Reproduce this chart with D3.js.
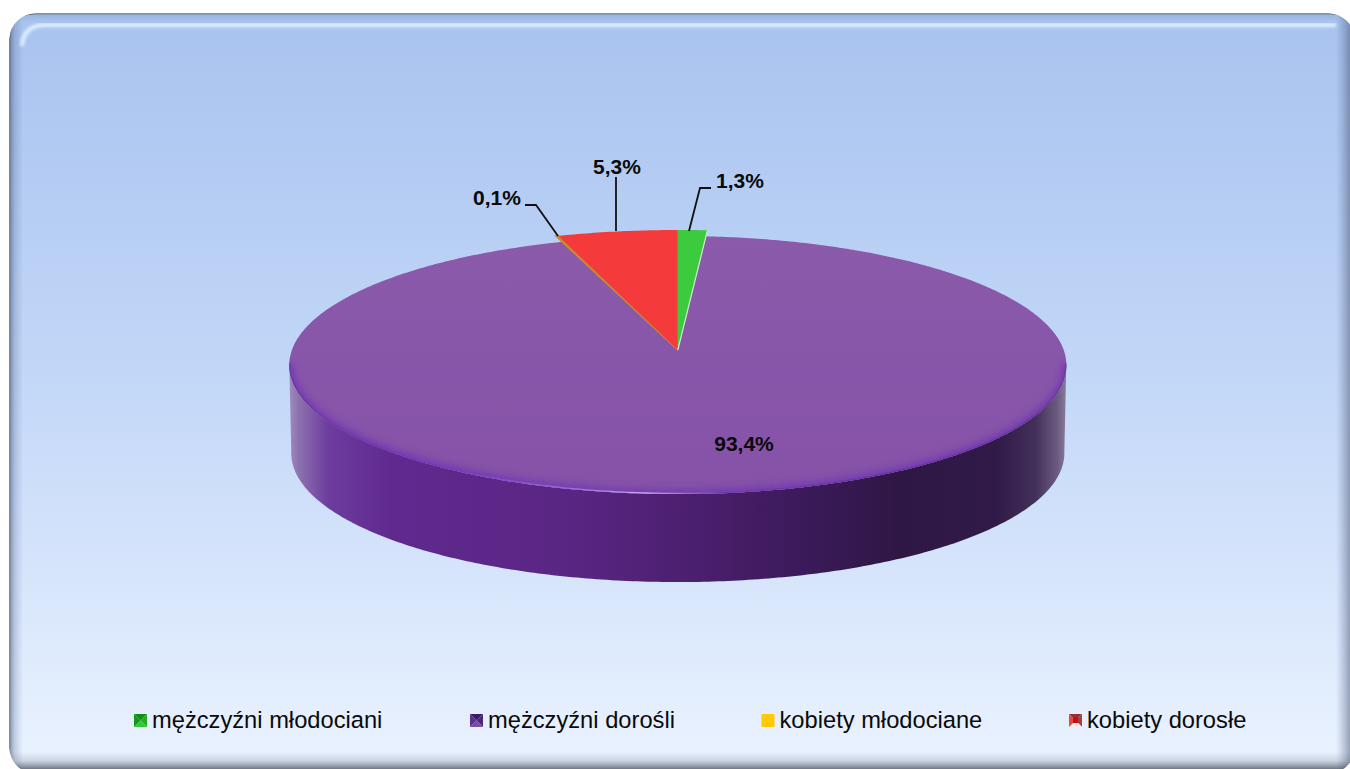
<!DOCTYPE html>
<html><head><meta charset="utf-8">
<script src="https://cdn.jsdelivr.net/npm/d3@7"></script>
<style>html,body{margin:0;padding:0;background:#fff;overflow:hidden}svg{display:block}</style>
</head><body><svg id="c" width="1350" height="769"></svg>
<script>
const categories = ["mężczyźni młodociani","mężczyźni dorośli","kobiety młodociane","kobiety dorosłe"];
const seriesValues = [1.3, 93.4, 0.1, 5.3];
const valueLabels = ["1,3%","93,4%","0,1%","5,3%"];
const sliceColors = ["#3ccb3c","#8857a9","#ffc800","#f53a3c"];

const svg = d3.select("#c");
const defs = svg.append("defs");
function lg(id,stops,x2,y2){
  const g=defs.append("linearGradient").attr("id",id).attr("x1",0).attr("y1",0).attr("x2",x2).attr("y2",y2);
  stops.forEach(s=>{const st=g.append("stop").attr("offset",s[0]).attr("stop-color",s[1]); if(s[2]!==undefined) st.attr("stop-opacity",s[2]);});
}
lg("bg",[[0,"#a8c3ef"],[.5,"#c4d8f8"],[1,"#ebf3ff"]],0,1);
lg("shL",[[0,"#46526e",.62],[.45,"#5a6e98",.25],[1,"#5a6e98",0]],1,0);
lg("shR",[[0,"#5a6e98",0],[1,"#46526e",.5]],1,0);
lg("shB",[[0,"#5a6478",0],[.5,"#5a6478",.2],[1,"#3c4454",.7]],0,1);
lg("shT",[[0,"#5a6e98",.22],[1,"#5a6e98",0]],0,1);
lg("wall",[[0,"#a08cbc"],[.012,"#8d72ae"],[.05,"#6d3c9e"],[.13,"#60298f"],[.35,"#5a2684"],[.5,"#4d2072"],[.65,"#3d1a5c"],[.78,"#2f1745"],[.91,"#301a48"],[.96,"#43305a"],[.988,"#6a5a80"],[1,"#8a7c9c"]],1,0);
lg("top",[[0,"#8b5aaa"],[1,"#8552a8"]],0,1);
lg("rim",[[0,"#6f35a8"],[.2,"#7436b8"],[.36,"#9a68d8"],[.46,"#c8a8e8"],[.56,"#7238a8"],[.8,"#6a30a8"],[1,"#6a3a9a"]],1,0);
const blur=(id,s)=>defs.append("filter").attr("id",id).attr("x","-5%").attr("y","-5%").attr("width","110%").attr("height","110%").append("feGaussianBlur").attr("stdDeviation",s);
blur("b3",3.2);blur("b15",1.5);blur("b05",.5);

// card
const card={x:9.5,y:13.5,w:1345,h:760,r:26};
defs.append("clipPath").attr("id","cardClip").append("rect").attr("x",card.x).attr("y",card.y).attr("width",card.w).attr("height",card.h).attr("rx",card.r);
svg.append("rect").attr("x",card.x).attr("y",card.y).attr("width",card.w).attr("height",card.h).attr("rx",card.r).attr("fill","url(#bg)");
const cg=svg.append("g").attr("clip-path","url(#cardClip)");
cg.append("rect").attr("x",9).attr("y",13).attr("width",1345).attr("height",9).attr("fill","url(#shT)");
cg.append("rect").attr("x",9).attr("y",13).attr("width",14).attr("height",770).attr("fill","url(#shL)");
cg.append("rect").attr("x",1336).attr("y",13).attr("width",14).attr("height",770).attr("fill","url(#shR)");
cg.append("rect").attr("x",9).attr("y",752).attr("width",1345).attr("height",17).attr("fill","url(#shB)");
cg.append("path").attr("d","M22,46 Q23,26 44,25 H1336").attr("fill","none").attr("stroke","#e0f0ff").attr("stroke-width",4).attr("filter","url(#b15)");
cg.append("path").attr("d","M9.5,769 V39.5 Q9.5,13.5 35.5,13.5 H1330 Q1345,13.5 1352,22").attr("fill","none").attr("stroke","#4a5560").attr("stroke-width",1.3);

// pie geometry: a tilted disc in perspective
const px=677.8, py=350, a=385.9, b=127.3, k=0.1163, depth=88, lift=1.059;
const proj=(ang,m=1)=>{const u=Math.sin(ang)*m, v=-Math.cos(ang)*m, w=1-k*v; return [px+a*u/w, py+b*v/w];};
const pie=d3.pie().sort(null).value(d=>d)(seriesValues);
const sample=(s,e,n)=>d3.range(n+1).map(i=>s+(e-s)*i/n);
const line=d3.line();
const mainSlice=pie[1];

// wall
const front=sample(mainSlice.startAngle,mainSlice.endAngle,500).map(t=>proj(t)).filter(p=>p[1]>=363);
const lower=front.map(p=>[677.5+(p[0]-677.5)*0.995,p[1]+depth]).reverse();
svg.append("path").attr("d",line(front.concat(lower))+"Z").attr("fill","url(#wall)");

// slices
const sliceG=svg.append("g");
const mainPts=[[px,py]].concat(sample(mainSlice.startAngle,mainSlice.endAngle,500).map(t=>proj(t)));
defs.append("clipPath").attr("id","topClip").append("path").attr("d",line(mainPts)+"Z");
pie.forEach((s,i)=>{
  const m=i===1?1:lift;
  const pts=[[px,py]].concat(sample(s.startAngle,s.endAngle,i===1?500:30).map(t=>proj(t,m)));
  sliceG.append("path").attr("d",line(pts)+"Z").attr("fill",i===1?"url(#top)":sliceColors[i])
    .attr("stroke",i===2?"#c88a30":"none").attr("stroke-width",i===2?1.6:0);
});
// soft bevel inside the purple rim, then a thin highlight
const rimG=svg.append("g").attr("clip-path","url(#topClip)");
rimG.append("path").attr("d",line(front)).attr("fill","none").attr("stroke","#6f34b4").attr("stroke-width",9).attr("opacity",.75).attr("filter","url(#b3)");
rimG.append("path").attr("d",line(front)).attr("fill","none").attr("stroke","url(#rim)").attr("stroke-width",2.6).attr("filter","url(#b05)");
// light edge right of the green slice
const gEnd=proj(pie[0].endAngle,lift);
svg.append("line").attr("x1",px).attr("y1",py).attr("x2",gEnd[0]).attr("y2",gEnd[1]).attr("stroke","#cfe8cf").attr("stroke-width",1.2);

// leaders + labels
const font='"Liberation Sans",Arial,sans-serif';
const layout=[
  {lx:740,ly:188,pts:[[700,188],[711,188]],end:[689,231]},
  {lx:744,ly:451},
  {lx:497,ly:205,pts:[[536,205],[525,205]],end:[558,236]},
  {lx:617,ly:174,pts:[[616,177]],end:[616,231]}
];
pie.forEach((s,i)=>{
  const l=layout[i];
  if(l.pts) svg.append("path").attr("d",line([l.end].concat(l.pts))).attr("fill","none").attr("stroke","#111").attr("stroke-width",1.8);
  svg.append("text").attr("x",l.lx).attr("y",l.ly).attr("text-anchor","middle").attr("font-family",font)
    .attr("font-weight","bold").attr("font-size",21).attr("fill","#0a0a0a").text(valueLabels[i]);
});

// legend
const legendX=[134,470,761.5,1069];
const legendFacets=[["#0f8f12","#22b022","#35c835","#119a14"],["#3c1a66","#4a2a78","#7a4aa8","#5a3090"],["#ffc800","#ffc800","#ffc800","#ffc800"],["#903038","#a04048","#ffe8e8","#e04848"]];
categories.forEach((c,i)=>{
  const x=legendX[i], y=714, s=13, cx=x+s/2, cy=y+s/2;
  const g=svg.append("g");
  const corners=[[x,y],[x+s,y],[x+s,y+s],[x,y+s]];
  legendFacets[i].forEach((col,j)=>g.append("path").attr("d",line([corners[j],corners[(j+1)%4],[cx,cy]])+"Z").attr("fill",col));
  if(i===3) g.append("rect").attr("x",x+4).attr("y",y+3).attr("width",5).attr("height",6).attr("fill","#d00810");
  g.append("text").attr("x",x+18).attr("y",y+14).attr("font-family",font).attr("font-size",23.7).attr("fill","#0a0a0a").text(c);
});
</script></body></html>
